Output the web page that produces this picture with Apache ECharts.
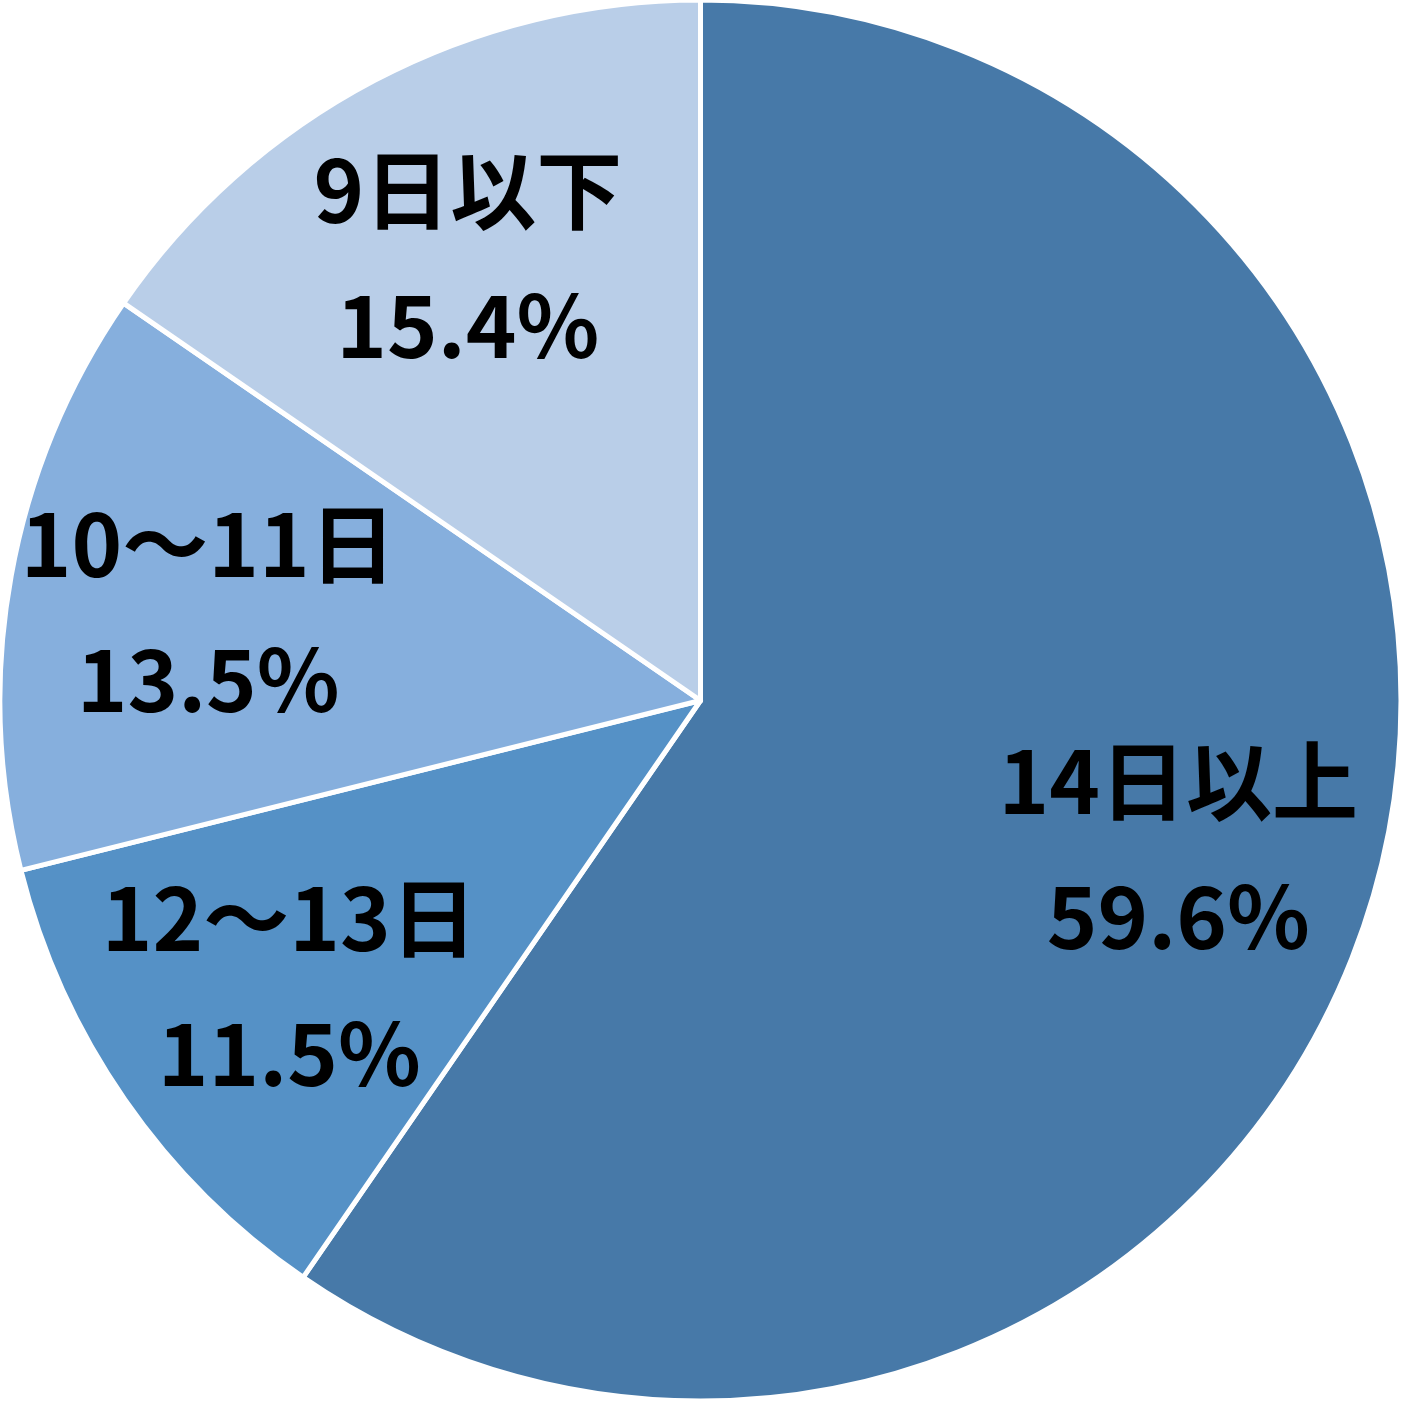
<!DOCTYPE html>
<html><head><meta charset="utf-8">
<script src="https://cdn.jsdelivr.net/npm/echarts@6/dist/echarts.min.js"></script>
<style>html,body{margin:0;padding:0;background:#fff;}#c{width:1401px;height:1401px;}</style>
</head><body><div id="c"></div>
<script>
const categories = ['14日以上', '12～13日', '10～11日', '9日以下'];
const values = [59.6, 11.5, 13.5, 15.4];
const colors = ['#4779A8', '#5591C6', '#86AFDD', '#B9CEE8'];

const chart = echarts.init(document.getElementById('c'));
const baseData = categories.map((c, i) => ({ name: c, value: values[i], itemStyle: { color: colors[i] } }));
chart.setOption({
  animation: false,
  series: [
    {
      type: 'pie', radius: ['0%', '100%'], center: ['50%', '50%'],
      startAngle: 90, clockwise: true, silent: true,
      itemStyle: { borderColor: '#fff', borderWidth: 5 },
      label: { show: false }, labelLine: { show: false },
      data: baseData
    },
    {
      type: 'pie', radius: ['42%', '100%'], center: ['50%', '50%'],
      startAngle: 90, clockwise: true, silent: true,
      itemStyle: { color: 'rgba(0,0,0,0)', borderWidth: 0 },
      label: {
        show: true, position: 'inside',
        formatter: p => p.name + '\n' + p.value.toFixed(1) + '%',
        fontFamily: 'Noto Sans CJK JP', fontWeight: 'bold', fontSize: 86,
        lineHeight: 135, color: '#000'
      },
      labelLine: { show: false },
      data: categories.map((c, i) => ({ name: c, value: values[i] }))
    }
  ]
});
</script></body></html>
